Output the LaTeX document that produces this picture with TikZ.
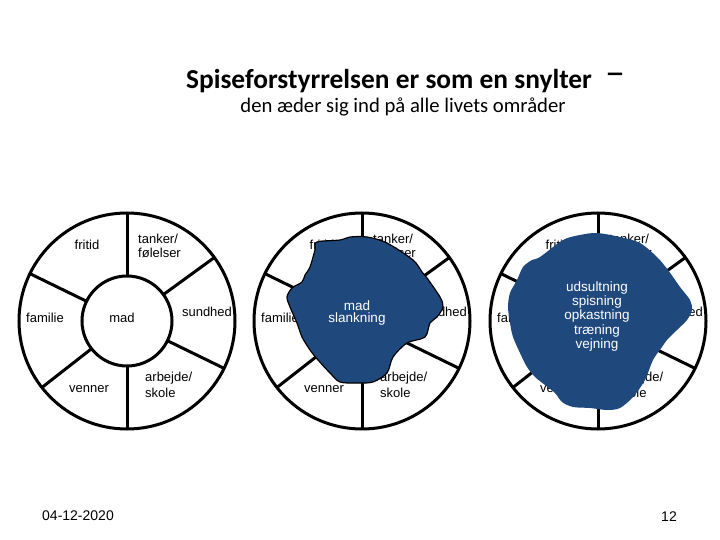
\documentclass[tikz,border=0pt]{standalone}
\usepackage{fontspec}
\setmainfont{Liberation Sans}
\newfontfamily\titlefont{Carlito}
\begin{document}
\begin{tikzpicture}[x=1pt,y=-1pt]
    \definecolor{myblob}{RGB}{31,73,125}
    \tikzset{
        wheel/.style={line width=3pt},
        lbl/.style={font=\fontsize{13}{13.5}\selectfont, inner sep=0pt},
        blobtxt/.style={white, align=center, inner sep=0pt}
    }
    \useasboundingbox (0,0) rectangle (720,540);

    % title
    \node[font=\titlefont\bfseries\fontsize{27.4}{30}\selectfont, anchor=base, inner sep=0pt] (title) at (389,89) {Spiseforstyrrelsen er som en snylter};
    \node[font=\titlefont\fontsize{40}{42}\selectfont, anchor=base, inner sep=0pt] (dash) at (615,86) {–};
    \node[font=\titlefont\fontsize{20.7}{22}\selectfont, anchor=base, inner sep=0pt] (subtitle) at (403,113) {den æder sig ind på alle livets områder};

    % the three wheels (y runs downwards, so angles turn clockwise)
    \foreach \cx in {127,362,598} {
        \draw[wheel] (\cx,321) circle (108);
        \draw[wheel] (\cx,321) circle (45);
        \foreach \ang in {-90,-36,26,90,142,206}
            \draw[wheel] (\cx,321) ++(\ang:45) -- ++(\ang:63);
        \foreach \dx/\dy/\nm/\txt in {-40/-76/fri/fritid, 80/-9/sun/sundhed, -82/-3/fam/familie, -38/68/ven/venner}
            \node[lbl] (\nm\cx) at (\cx+\dx,321+\dy) {\txt};
        \node[lbl, anchor=west, align=left] (tank\cx) at (\cx+11,321-75) {tanker/\\følelser};
        \node[lbl, anchor=west, align=left, font=\fontsize{13}{15.5}\selectfont] (arb\cx) at (\cx+18,321+64) {arbejde/\\skole};
    }
    \node[lbl] (mad) at (122,318) {mad};

    % the parasite, second wheel
    \fill[myblob, draw=black, line width=1.2pt] plot[smooth cycle, tension=0.5] coordinates {
        (317,242) (340,240) (350,237) (367,237) (387,243) (413,260) (422,272) (427,278)
        (440,297) (443,307) (437,317) (430,323) (425,337) (407,343) (393,357) (387,373)
        (373,382) (357,383) (340,382) (330,373) (318,360) (310,350) (302,337) (297,323)
        (290,307) (287,297) (292,288) (302,282) (305,275) (310,267) (315,250)};
    \node[blobtxt, font=\fontsize{13.5}{12.7}\selectfont] (slank) at (357,313) {mad\\slankning};

    % the parasite, third wheel
    \fill[myblob] plot[smooth cycle, tension=0.5] coordinates {
        (540,257) (563,240) (580,235) (597,233) (620,237) (640,243) (657,257) (668,270)
        (680,287) (690,300) (692,310) (687,320) (677,330) (667,340) (662,347) (653,360)
        (645,380) (633,397) (620,408) (607,410) (590,408) (573,407) (562,402) (555,393)
        (545,385) (535,377) (527,367) (520,353) (513,337) (510,323) (508,307) (510,293)
        (517,280) (523,267) (532,260)};
    \node[blobtxt, font=\fontsize{13.5}{14.25}\selectfont] (behav) at (597,316.5) {udsultning\\spisning\\opkastning\\træning\\vejning};

    % footer
    \node[font=\fontsize{14}{16}\selectfont, inner sep=0pt] (date) at (78,516) {04-12-2020};
    \node[font=\fontsize{14}{16}\selectfont, inner sep=0pt] (page) at (669,517) {12};
\end{tikzpicture}
\end{document}
